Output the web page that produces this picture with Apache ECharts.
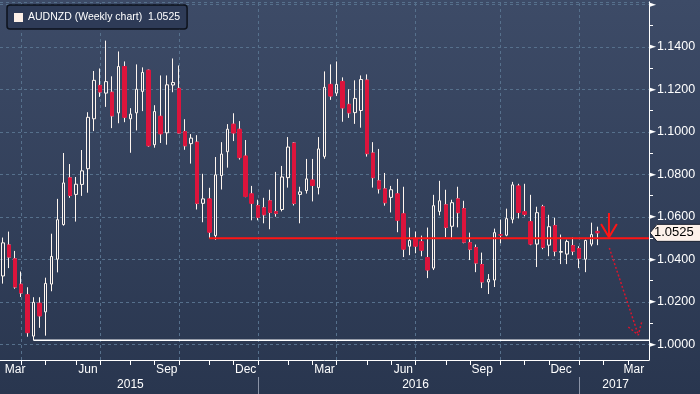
<!DOCTYPE html>
<html><head><meta charset="utf-8">
<script src="https://cdn.jsdelivr.net/npm/echarts@6/dist/echarts.min.js"></script>
<style>html,body{margin:0;padding:0;background:#2c3a56}#c{width:700px;height:394px}</style>
</head><body><div id="c"></div>
<script>
// ---- data ----
const firstWeek = '2015-03-13';   // weekly bars (Fridays)
const weekCount = 107;            // slots on the category axis (incl. empty future weeks)
const opens = [1.0322,1.0468,1.0403,1.0283,1.0234,1.0039,1.0194,1.0153,1.0284,1.0401,
1.0564,1.0784,1.0706,1.0753,1.0827,1.1062,1.1219,1.1183,1.1187,1.1090,
1.1308,1.1062,1.1090,1.1191,1.1291,1.0940,1.1074,1.0996,1.1221,1.1205,
1.1002,1.0945,1.0952,1.0664,1.0685,1.0512,1.0795,1.0907,1.1037,1.1013,
1.0887,1.0709,1.0653,1.0643,1.0676,1.0625,1.0635,1.0785,1.0948,1.0706,
1.0724,1.0774,1.0738,1.0885,1.1224,1.1183,1.1238,1.1130,1.1091,1.1101,
1.1244,1.0901,1.0770,1.0732,1.0692,1.0709,1.0615,1.0462,1.0498,1.0484,
1.0409,1.0359,1.0626,1.0657,1.0556,1.0685,1.0639,1.0479,1.0456,1.0376,
1.0294,1.0303,1.0517,1.0514,1.0589,1.0746,1.0625,1.0578,1.0472,1.0648,
1.0467,1.0559,1.0434,1.0425,1.0465,1.0451,1.0401,1.0472,1.0532];
const closes = [1.0478,1.0411,1.0270,1.0242,1.0055,1.0198,1.0134,1.0287,1.0414,1.0587,
1.0760,1.0701,1.0754,1.0817,1.1069,1.1243,1.1188,1.1237,1.1076,1.1308,
1.1069,1.1084,1.1201,1.1280,1.0935,1.1096,1.0991,1.1222,1.1233,1.0995,
1.0935,1.0971,1.0664,1.0685,1.0528,1.0798,1.0896,1.1013,1.0995,1.0879,
1.0696,1.0664,1.0598,1.0610,1.0621,1.0617,1.0788,1.0929,1.0664,1.0718,
1.0779,1.0748,1.0920,1.1210,1.1169,1.1224,1.1113,1.1090,1.1158,1.1247,
1.0898,1.0785,1.0732,1.0667,1.0728,1.0584,1.0448,1.0489,1.0462,1.0443,
1.0350,1.0653,1.0676,1.0551,1.0667,1.0620,1.0481,1.0448,1.0383,1.0294,
1.0306,1.0526,1.0514,1.0592,1.0751,1.0621,1.0612,1.0472,1.0620,1.0457,
1.0554,1.0439,1.0437,1.0484,1.0439,1.0406,1.0489,1.0517,1.0525];
const lows = [1.0286,1.0359,1.0262,1.0223,1.0036,1.0020,1.0078,1.0041,1.0250,1.0339,
1.0559,1.0690,1.0578,1.0699,1.0714,1.1004,1.1165,1.1118,1.1018,1.1041,
1.1046,1.0902,1.1007,1.1098,1.0931,1.0926,1.0948,1.0940,1.1187,1.0993,
1.0916,1.0851,1.0635,1.0575,1.0500,1.0492,1.0729,1.0832,1.0957,1.0870,
1.0693,1.0584,1.0584,1.0570,1.0542,1.0601,1.0626,1.0738,1.0654,1.0570,
1.0710,1.0673,1.0706,1.0874,1.1151,1.1169,1.1048,1.1066,1.1038,1.1020,
1.0884,1.0738,1.0710,1.0653,1.0621,1.0528,1.0411,1.0420,1.0429,1.0415,
1.0312,1.0350,1.0607,1.0505,1.0495,1.0551,1.0476,1.0397,1.0340,1.0265,
1.0237,1.0270,1.0476,1.0509,1.0570,1.0593,1.0603,1.0467,1.0364,1.0448,
1.0415,1.0415,1.0378,1.0378,1.0420,1.0359,1.0340,1.0462,1.0467];
const highs = [1.0503,1.0531,1.0440,1.0343,1.0269,1.0222,1.0222,1.0314,1.0521,1.0685,
1.0901,1.0849,1.0788,1.0915,1.1093,1.1287,1.1299,1.1430,1.1262,1.1379,
1.1332,1.1112,1.1318,1.1304,1.1293,1.1126,1.1266,1.1266,1.1346,1.1313,
1.1060,1.0990,1.0985,1.0803,1.0737,1.0882,1.0952,1.1037,1.1088,1.1051,
1.0962,1.0746,1.0681,1.0690,1.0728,1.0812,1.0840,1.0976,1.0952,1.0742,
1.0873,1.0873,1.0976,1.1285,1.1318,1.1332,1.1257,1.1201,1.1243,1.1266,
1.1271,1.0952,1.0920,1.0807,1.0746,1.0779,1.0742,1.0550,1.0531,1.0512,
1.0550,1.0704,1.0770,1.0728,1.0681,1.0742,1.0676,1.0526,1.0470,1.0432,
1.0331,1.0545,1.0587,1.0639,1.0765,1.0756,1.0756,1.0704,1.0648,1.0657,
1.0610,1.0596,1.0517,1.0493,1.0503,1.0462,1.0493,1.0573,1.0554];
const monthLabelDates = ['2015-03-27','2015-06-19','2015-09-18','2015-12-18','2016-03-18','2016-06-17','2016-09-16','2016-12-16','2017-03-10'];
const yearLabelDates = ['2015-08-07','2016-07-01','2017-02-17'];
const monthNames = ['Jan','Feb','Mar','Apr','May','Jun','Jul','Aug','Sep','Oct','Nov','Dec'];
const seriesName = 'AUDNZD (Weekly chart)  1.0525';
const lastPrice = 1.0525;
const yMin = 0.99265, yMax = 1.16126;
// annotations
const lowLineStart = 5;          // bar whose low starts the white support line
const supportLevel = 1.05, supportStart = 34;
const arrowShaft = [[99.9, 1.0618], [99.9, 1.0504]];
const arrowHead = [[98.6, 1.0567], [99.9, 1.0504], [101.2, 1.0567]];
const dotShaft = [[99.96, 1.0454], [104.74, 1.0044]];
const dotHead = [[103.09, 1.0082], [104.74, 1.0044], [105.3, 1.0106]];

// ---- build ----
const categories = [];
const t0 = Date.parse(firstWeek + 'T00:00:00Z');
for (let i = 0; i < weekCount; i++) categories.push(new Date(t0 + i * 7 * 86400000).toISOString().slice(0, 10));
const mon = v => +v.slice(5, 7), day = v => +v.slice(8, 10);
const candleData = opens.map((o, i) => [o, closes[i], lows[i], highs[i]]);
const redBodies = opens.map((o, i) => closes[i] < o ? [o, closes[i], closes[i], o] : '-');
const quarterLines = [];
categories.forEach((v, i) => { if ([1,4,7,10].includes(mon(v)) && day(v) <= 7) quarterLines.push({xAxis: i}); });
const last = weekCount - 0.5;

const chart = echarts.init(document.getElementById('c'));
const FONT = 'Liberation Sans';
const option = {
  animation: false,
  backgroundColor: {type:'linear', x:0, y:0, x2:0, y2:1, colorStops:[{offset:0,color:'#3d4b67'},{offset:1,color:'#29364f'}]},
  textStyle: {fontFamily: FONT},
  legend: {
    left: 7, top: 5, padding: [7, 7, 6, 7], backgroundColor: '#2e3b57', borderColor: '#0d121c', borderWidth: 1.5, borderRadius: 3,
    itemWidth: 9, itemHeight: 9, selectedMode: false,
    textStyle: {color: '#ffffff', fontSize: 10.5, fontFamily: FONT},
    data: [{name: seriesName, icon: 'rect', itemStyle: {color: '#fdf0e8', borderWidth: 0}}]
  },
  grid: {left: 0, right: 51, top: 0, bottom: 34},
  xAxis: [
    {type: 'category', data: categories, boundaryGap: true, position: 'bottom',
     axisLine: {show: true, onZero: false, lineStyle: {color: '#ffffff', width: 1}},
     axisTick: {show: true, alignWithLabel: true, length: 5, lineStyle: {color: '#ffffff'},
                interval: (i, v) => day(v) <= 7},
     axisLabel: {color: '#ffffff', fontSize: 12, margin: 4, fontFamily: FONT,
                 interval: (i, v) => monthLabelDates.includes(v),
                 formatter: v => monthNames[mon(v) - 1]},
     splitLine: {show: false}},
    {type: 'category', data: categories, boundaryGap: true, position: 'bottom', offset: 17,
     axisLine: {show: false, onZero: false},
     axisTick: {show: true, alignWithLabel: true, length: 17, lineStyle: {color: '#8a93a6'},
                interval: (i, v) => mon(v) === 1 && day(v) <= 7},
     axisLabel: {color: '#ffffff', fontSize: 12, margin: 2, fontFamily: FONT,
                 interval: (i, v) => yearLabelDates.includes(v),
                 formatter: v => v.slice(0, 4)},
     splitLine: {show: false}},
    {type: 'value', position: 'top', min: -0.5, max: last, show: false, axisLine: {onZero: false}}
  ],
  yAxis: [{
    type: 'value', position: 'right', min: yMin, max: yMax, splitNumber: 8,
    axisLine: {show: true, onZero: false, lineStyle: {color: '#ffffff', width: 1}},
    axisTick: {show: false},
    minorTick: {show: true, splitNumber: 2, length: 4, lineStyle: {color: '#ffffff'}},
    splitLine: {show: true, lineStyle: {color: '#56708c', type: [3, 3], width: 1}},
    axisLabel: {
      margin: 0, color: '#ffffff', fontSize: 12.5, fontFamily: FONT,
      formatter: v => {
        const r = Math.round(v * 50) / 50;
        if (Math.abs(v - r) > 1e-6) return '';
        if (r > 1.15) return '{t|►}';
        return '{t|►}{v|' + r.toFixed(4) + '}';
      },
      rich: {t: {fontFamily: 'DejaVu Sans', fontSize: 9, color: '#ffffff', padding: [0, 1, 0, 0]},
             v: {fontFamily: FONT, fontSize: 12.5, color: '#ffffff'}}
    }
  }],
  series: [
    {type: 'line', xAxisIndex: 2, yAxisIndex: 0, data: [], silent: true, z: 1,
     markLine: {silent: true, symbol: 'none', z: 1, label: {show: false},
                lineStyle: {color: '#56708c', type: [3, 3], width: 1}, data: quarterLines}},
    {type: 'candlestick', name: seriesName, xAxisIndex: 0, yAxisIndex: 0, data: candleData, barWidth: 3, z: 2,
     itemStyle: {color: 'rgba(0,0,0,0)', color0: '#dc143c', borderColor: '#fff6ef', borderColor0: '#fff6ef', borderWidth: 1}},
    {type: 'candlestick', xAxisIndex: 0, yAxisIndex: 0, data: redBodies, barWidth: 4, z: 3,
     itemStyle: {color: '#dc143c', color0: '#dc143c', borderColor: '#dc143c', borderColor0: '#dc143c', borderWidth: 1}},
    {type: 'line', xAxisIndex: 2, yAxisIndex: 0, symbol: 'none', silent: true, z: 4,
     data: [[lowLineStart, lows[lowLineStart]], [last, lows[lowLineStart]]],
     lineStyle: {color: '#ffffff', width: 1.5}},
    {type: 'line', xAxisIndex: 2, yAxisIndex: 0, symbol: 'none', silent: true, z: 4,
     data: [[supportStart, supportLevel], [last, supportLevel]],
     lineStyle: {color: '#ff1414', width: 2}},
    {type: 'line', xAxisIndex: 2, yAxisIndex: 0, symbol: 'none', silent: true, z: 4,
     data: arrowShaft.concat([['-', '-']], arrowHead), connectNulls: false,
     lineStyle: {color: '#ff1414', width: 2}},
    {type: 'line', xAxisIndex: 2, yAxisIndex: 0, symbol: 'none', silent: true, z: 4,
     data: dotShaft.concat([['-', '-']], dotHead), connectNulls: false,
     lineStyle: {color: '#d8152e', width: 1.5, type: [2, 2]}}
  ]
};
chart.setOption(option);
const yLast = chart.convertToPixel({yAxisIndex: 0}, lastPrice);
const ax = chart.getWidth() - 51;
chart.setOption({graphic: [{
  type: 'group', z: 100, children: [
    {type: 'polygon', shape: {points: [[ax + 1, yLast], [ax + 8, yLast - 8.5], [702, yLast - 8.5], [702, yLast + 8.5], [ax + 8, yLast + 8.5]]},
     style: {fill: '#fdf1ea', stroke: '#1b2232', lineWidth: 1}},
    {type: 'text', x: ax + 5, y: yLast, style: {text: lastPrice.toFixed(4), fill: '#000000', font: '13px "Liberation Sans"', verticalAlign: 'middle', align: 'left'}}
  ]}]});
</script></body></html>
